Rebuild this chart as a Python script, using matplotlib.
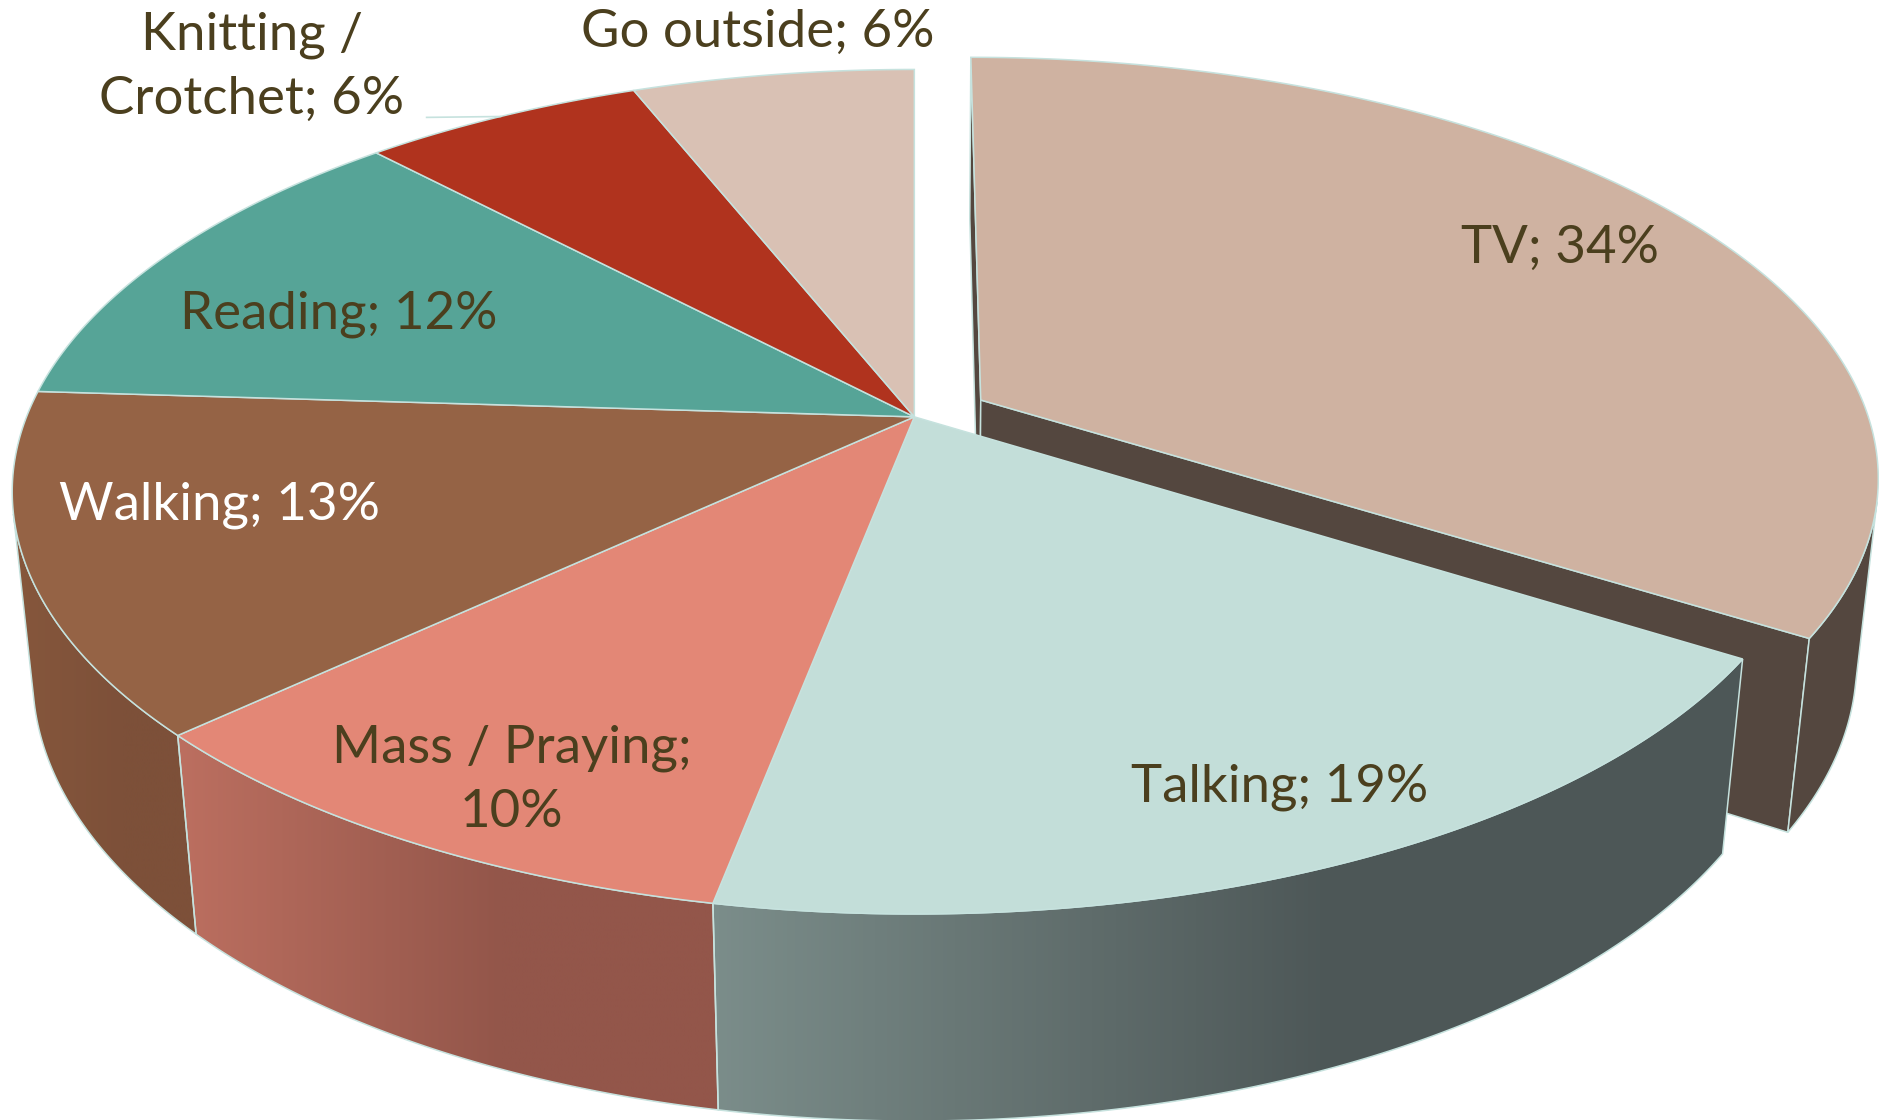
import numpy as np
import matplotlib
matplotlib.use("Agg")
import matplotlib.pyplot as plt
from matplotlib.patches import Polygon
from matplotlib.colors import LinearSegmentedColormap

# ---------------- data ----------------
categories = ["TV", "Talking", "Mass / Praying", "Walking", "Reading",
              "Knitting /\nCrotchet", "Go outside"]
values = [34, 19, 10, 13, 12, 6, 6]

# ---------------- style / layout ----------------
explode = [0.086, 0, 0, 0, 0, 0, 0]
top_colors = ["#CFB2A1", "#C3DED9", "#E38776", "#956345", "#56A497", "#B0331E", "#D9C1B4"]
side_left = ["#54473F", "#7B8D8A", "#BC6F60", "#86573C", "#3F7A70", "#832515", "#A88F82"]
side_right = ["#54473F", "#4D5757", "#93564A", "#7D5039", "#3F7A70", "#832515", "#A88F82"]
face_color = "#54473F"
edge_color = "#C6E2DE"
text_color = "#4B3F1E"
label_sep = ["; ", "; ", ";\n", "; ", "; ", "; ", "; "]
label_color = [text_color, text_color, text_color, "white", text_color, text_color, text_color]
label_pos = [(1302, 207), (1068, 657), (427, 651), (183, 422), (283, 262), (210, 56), (632, 27)]
leader = [False, False, False, False, False, True, False]

W, H = 1568, 935
fig = plt.figure(figsize=(18.79, 11.2), dpi=100)
ax = fig.add_axes([0, 0, 1, 1])
ax.set_xlim(0, W)
ax.set_ylim(H, 0)
ax.axis("off")

CX, CY = 763.0, 348.0
alpha = np.radians(27.8)
ca, sa = np.cos(alpha), np.sin(alpha)
D = 4.99
FX = 3697.0
FY = 3653.0
DEPTH = 0.24
CAM = np.array([0.0, -D * ca, D * sa])


def proj(X, Y, Z):
    X = np.asarray(X, float); Y = np.asarray(Y, float); Z = np.asarray(Z, float)
    zc = D + Y * ca - Z * sa
    yc = Y * sa + Z * ca
    return CX + FX * X / zc, CY - FY * yc / zc


total = float(sum(values))
bounds = np.concatenate([[0], np.cumsum(values)]) / total * 360.0

slices = []
for i, v in enumerate(values):
    p0, p1 = bounds[i], bounds[i + 1]
    mid = np.radians((p0 + p1) / 2)
    O = np.array([explode[i] * np.sin(mid), explode[i] * np.cos(mid)])
    slices.append((p0, p1, O))


def top_face(i):
    p0, p1, O = slices[i]
    ph = np.radians(np.linspace(p0, p1, 200))
    X = np.concatenate([[O[0]], O[0] + np.sin(ph)])
    Y = np.concatenate([[O[1]], O[1] + np.cos(ph)])
    x, y = proj(X, Y, np.zeros_like(X))
    return np.column_stack([x, y])


def wall_polys(i):
    p0, p1, O = slices[i]
    ph = np.radians(np.linspace(p0, p1, 400))
    nx, ny = np.sin(ph), np.cos(ph)
    PX, PY = O[0] + nx, O[1] + ny
    vis = nx * (CAM[0] - PX) + ny * (CAM[1] - PY) > 0
    polys = []
    idx = np.where(vis)[0]
    if len(idx) < 2:
        return polys
    runs = np.split(idx, np.where(np.diff(idx) != 1)[0] + 1)
    for r in runs:
        if len(r) < 2:
            continue
        xt, yt = proj(PX[r], PY[r], np.zeros(len(r)))
        xb, yb = proj(PX[r], PY[r], -DEPTH * np.ones(len(r)))
        polys.append(np.column_stack([np.concatenate([xt, xb[::-1]]),
                                      np.concatenate([yt, yb[::-1]])]))
    return polys


def radial_faces(i):
    p0, p1, O = slices[i]
    out = []
    for ang, sgn in ((p0, -1), (p1, 1)):
        a = np.radians(ang)
        n = sgn * np.array([np.cos(a), -np.sin(a)])
        if n[0] * (CAM[0] - O[0]) + n[1] * (CAM[1] - O[1]) <= 1e-9:
            continue
        RX, RY = O[0] + np.sin(a), O[1] + np.cos(a)
        X = [O[0], RX, RX, O[0]]
        Y = [O[1], RY, RY, O[1]]
        Z = [0, 0, -DEPTH, -DEPTH]
        x, y = proj(X, Y, Z)
        out.append(np.column_stack([x, y]))
    return out


def draw_wall(i, poly, zo):
    cl, cr = side_left[i], side_right[i]
    if cl == cr:
        ax.add_patch(Polygon(poly, closed=True, facecolor=cl, edgecolor=edge_color,
                             linewidth=1.1, joinstyle="round", zorder=zo))
        return
    x0, x1 = poly[:, 0].min(), poly[:, 0].max()
    y0, y1 = poly[:, 1].min(), poly[:, 1].max()
    cmap = LinearSegmentedColormap.from_list("g%d" % i, [(0, cl), (0.6, cr), (1, cr)])
    grad = np.linspace(0, 1, 256)[None, :]
    im = ax.imshow(grad, cmap=cmap, extent=[x0, x1, y1, y0], aspect="auto",
                   interpolation="bilinear", zorder=zo)
    pat = Polygon(poly, closed=True, facecolor="none", edgecolor=edge_color,
                  linewidth=1.1, zorder=zo + 0.05)
    ax.add_patch(pat)
    im.set_clip_path(pat)


exploded = [i for i in range(len(values)) if explode[i] > 0]
rest = [i for i in range(len(values)) if explode[i] == 0]

# exploded slices sit behind the rest
for i in exploded:
    for poly in radial_faces(i):
        ax.add_patch(Polygon(poly, closed=True, facecolor=face_color,
                             edgecolor=edge_color, linewidth=1.1, zorder=1))
    for poly in wall_polys(i):
        draw_wall(i, poly, 1.0)
    ax.add_patch(Polygon(top_face(i), closed=True, facecolor=top_colors[i],
                         edgecolor=edge_color, linewidth=1.1, zorder=1.2))

for i in rest:
    for poly in wall_polys(i):
        draw_wall(i, poly, 2.0)
for i in rest:
    ax.add_patch(Polygon(top_face(i), closed=True, facecolor=top_colors[i],
                         edgecolor=edge_color, linewidth=1.1, zorder=3))

# labels
for i, (cat, v) in enumerate(zip(categories, values)):
    txt = f"{cat}{label_sep[i]}{v}%"
    lx, ly = label_pos[i]
    ax.text(lx, ly, txt, ha="center", va="center", color=label_color[i],
            fontsize=38, family=["Lato", "DejaVu Sans"], fontweight="normal",
            linespacing=1.45, zorder=5)
    if leader[i]:
        p0, p1, O = slices[i]
        m = np.radians((p0 + p1) / 2)
        rx, ry = proj(O[0] + np.sin(m), O[1] + np.cos(m), 0.0)
        ax.plot([lx + 146, float(rx)], [ly + 42, float(ry)], color=edge_color,
                lw=1.2, zorder=4)

fig.savefig("out.png", dpi=100, facecolor="white")
